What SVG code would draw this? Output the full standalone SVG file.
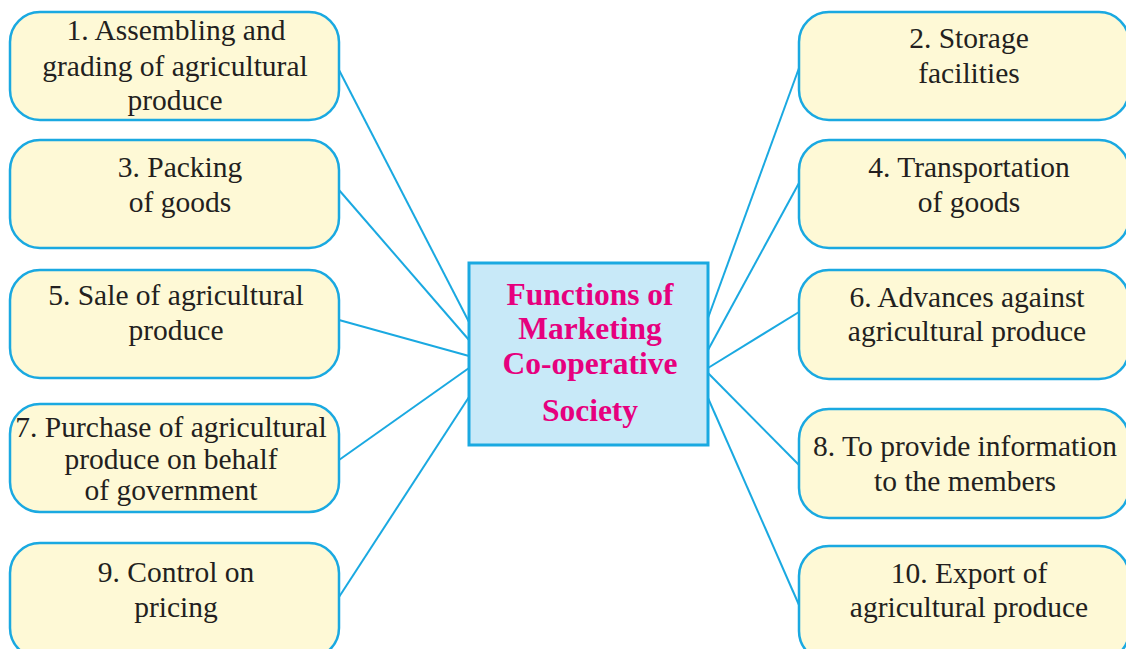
<svg xmlns="http://www.w3.org/2000/svg" width="1126" height="649" viewBox="0 0 1126 649">
<style>
.box{fill:#fef9d6;stroke:#1aa9e1;stroke-width:2.5}
.t{font-family:"Liberation Serif","Times New Roman",serif;font-size:29.5px;fill:#231f20;text-anchor:middle}
.c{font-family:"Liberation Serif","Times New Roman",serif;font-size:31.5px;font-weight:bold;fill:#e6007e;text-anchor:middle}
.ln{stroke:#1aa9e1;stroke-width:2;fill:none}
</style>
<rect width="1126" height="649" fill="#ffffff"/>
<g id="connectors">
<line class="ln" x1="339" y1="70" x2="469" y2="322"/>
<line class="ln" x1="339" y1="190" x2="469" y2="340"/>
<line class="ln" x1="339" y1="320" x2="469" y2="356"/>
<line class="ln" x1="339" y1="460" x2="469" y2="368"/>
<line class="ln" x1="339" y1="597" x2="469" y2="397"/>
<line class="ln" x1="799" y1="68" x2="708" y2="318"/>
<line class="ln" x1="799" y1="183" x2="708" y2="350"/>
<line class="ln" x1="799" y1="312" x2="708" y2="368"/>
<line class="ln" x1="799" y1="465" x2="708" y2="373"/>
<line class="ln" x1="799" y1="605" x2="708" y2="398"/>
</g>
<g id="center">
<rect x="469" y="263" width="239" height="182" fill="#c8e9f8" stroke="#1aa9e1" stroke-width="3"/>
<text class="c" x="590" y="305">Functions of</text>
<text class="c" x="590" y="339">Marketing</text>
<text class="c" x="590" y="374">Co-operative</text>
<text class="c" x="590" y="421">Society</text>
</g>
<g id="n1">
<rect class="box" x="10" y="12" width="329" height="108" rx="30"/>
<text class="t" x="176" y="40">1. Assembling and</text>
<text class="t" x="175" y="76">grading of agricultural</text>
<text class="t" x="175" y="110">produce</text>
</g>
<g id="n3">
<rect class="box" x="10" y="140" width="329" height="108" rx="30"/>
<text class="t" x="180" y="177">3. Packing</text>
<text class="t" x="180" y="212">of goods</text>
</g>
<g id="n5">
<rect class="box" x="10" y="270" width="329" height="108" rx="30"/>
<text class="t" x="176" y="305">5. Sale of agricultural</text>
<text class="t" x="176" y="340">produce</text>
</g>
<g id="n7">
<rect class="box" x="10" y="404" width="329" height="108" rx="30"/>
<text class="t" x="171" y="437">7. Purchase of agricultural</text>
<text class="t" x="171" y="469">produce on behalf</text>
<text class="t" x="171" y="500">of government</text>
</g>
<g id="n9">
<rect class="box" x="10" y="543" width="329" height="115" rx="30"/>
<text class="t" x="176" y="582">9. Control on</text>
<text class="t" x="176" y="617">pricing</text>
</g>
<g id="n2">
<rect class="box" x="799" y="12" width="330" height="108" rx="30"/>
<text class="t" x="969" y="48">2. Storage</text>
<text class="t" x="969" y="83">facilities</text>
</g>
<g id="n4">
<rect class="box" x="799" y="140" width="330" height="108" rx="30"/>
<text class="t" x="969" y="177">4. Transportation</text>
<text class="t" x="969" y="212">of goods</text>
</g>
<g id="n6">
<rect class="box" x="799" y="270" width="330" height="109" rx="30"/>
<text class="t" x="967" y="307">6. Advances against</text>
<text class="t" x="967" y="341">agricultural produce</text>
</g>
<g id="n8">
<rect class="box" x="799" y="409" width="330" height="109" rx="30"/>
<text class="t" x="965" y="456">8. To provide information</text>
<text class="t" x="965" y="491">to the members</text>
</g>
<g id="n10">
<rect class="box" x="799" y="546" width="330" height="115" rx="30"/>
<text class="t" x="969" y="583">10. Export of</text>
<text class="t" x="969" y="617">agricultural produce</text>
</g>
</svg>
